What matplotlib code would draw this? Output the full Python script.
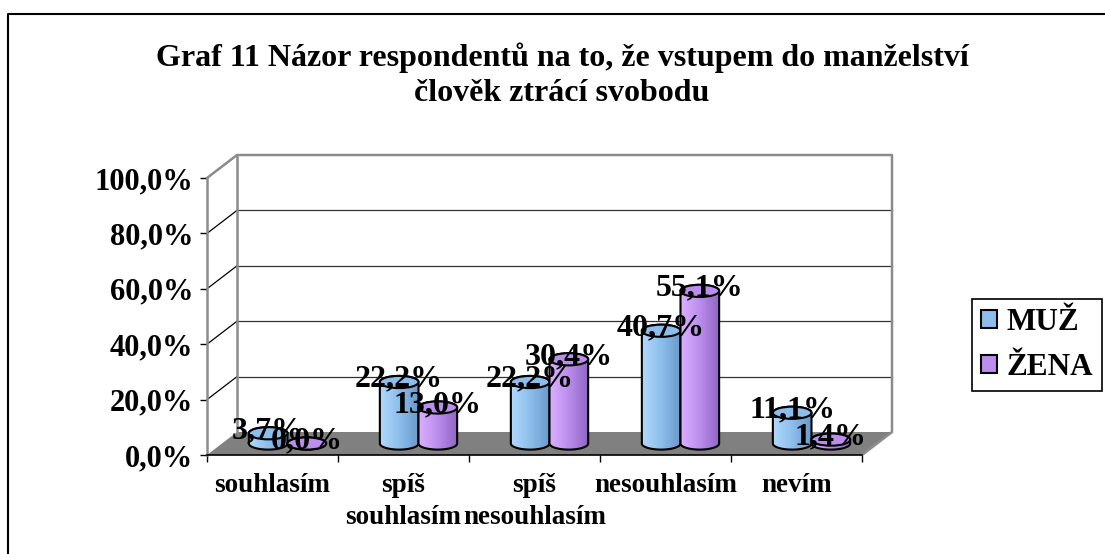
import numpy as np
import matplotlib
matplotlib.use('Agg')
import matplotlib.pyplot as plt
from matplotlib.patches import Polygon, Ellipse, Patch
from matplotlib.lines import Line2D
from matplotlib.colors import LinearSegmentedColormap

plt.rcParams['font.family'] = ['Liberation Serif', 'DejaVu Serif']
plt.rcParams['font.weight'] = 'bold'

# data
categories = ['souhlasím', 'spíš\nsouhlasím', 'spíš\nnesouhlasím', 'nesouhlasím', 'nevím']
series = ['MUŽ', 'ŽENA']
muz = [3.7, 22.2, 22.2, 40.7, 11.1]
zena = [0.0, 13.0, 30.4, 55.1, 1.4]
yticks = [0, 20, 40, 60, 80, 100]
title = 'Graf 11 Názor respondentů na to, že vstupem do manželství\nčlověk ztrácí svobodu'

# colours: light side, mid, dark side
blue = ['#b0d8fb', '#8cbdeb', '#6a9acb']
purple = ['#dcb0ff', '#bb8eee', '#9266c4']

# pseudo 3d geometry (category units / percent units)
DX = 0.229
DY = 8.3
BW = 0.295
EH = 4.4


def pct(v):
    return f'{v:.1f}%'.replace('.', ',')


def cylinder(ax, cx, h, cols, z):
    a = BW / 2
    b = EH / 2
    base = DY / 2
    top = base + h
    t1 = np.linspace(np.pi, 2 * np.pi, 60)
    t2 = np.linspace(0, np.pi, 60)
    xs = np.r_[cx + a * np.cos(t1), cx + a * np.cos(t2)]
    ys = np.r_[base + b * np.sin(t1), top + b * np.sin(t2)]
    body = Polygon(np.c_[xs, ys], closed=True, fc='none', ec='black',
                   lw=1.5, zorder=z + 0.2, clip_on=False)
    ax.add_patch(body)
    cmap = LinearSegmentedColormap.from_list('cyl', cols)
    grad = np.linspace(0, 1, 40)[None, :]
    im = ax.imshow(grad, cmap=cmap, extent=(cx - a, cx + a, base - b, top + b),
                   aspect='auto', origin='lower', zorder=z)
    im.set_clip_path(body)
    ax.add_patch(Ellipse((cx, top), 2 * a, 2 * b, fc=cols[1], ec='black',
                         lw=1.5, zorder=z + 0.3, clip_on=False))
    return top


fig = plt.figure(figsize=(11.05, 5.54), dpi=100)
ax = fig.add_axes([207 / 1105, 99 / 554, 655 / 1105, 277 / 554])
n = len(categories)

# walls and floor
ax.add_patch(Polygon([(0, 0), (n, 0), (n + DX, DY), (DX, DY)], closed=True,
                     fc='#808080', ec='none', zorder=1, clip_on=False))
for v in yticks[1:-1]:
    ax.plot([DX, n + DX], [v + DY, v + DY], color='#333333', lw=0.9, zorder=0.5, clip_on=False)
for v in yticks[1:]:
    ax.plot([0, DX], [v, v + DY], color='black', lw=0.9, zorder=0.5, clip_on=False)
edge = dict(color='#8c8c8c', lw=1.8, zorder=2, clip_on=False, solid_capstyle='round')
ax.plot([0, DX, n + DX, n + DX, n], [100, 100 + DY, 100 + DY, DY, 0], **edge)
ax.plot([DX, DX], [DY, 100 + DY], **edge)

# cylinders
for i in range(n):
    c = i + 0.5 + DX / 2
    for j, (vals, cols) in enumerate([(muz, blue), (zena, purple)]):
        cx = c + (j - 0.5) * BW
        top = cylinder(ax, cx, vals[i], cols, 3 + 2 * i + j)
        ax.text(cx, top + 1, pct(vals[i]), ha='center', va='center',
                fontsize=23, zorder=20)

ax.set_xlim(0, n)
ax.set_ylim(0, 100)
for s in ['top', 'right']:
    ax.spines[s].set_visible(False)
ax.spines['left'].set_color('#8c8c8c')
ax.spines['left'].set_linewidth(1.8)
ax.spines['bottom'].set_color('black')
ax.spines['bottom'].set_linewidth(1.2)
ax.set_yticks(yticks)
ax.set_yticklabels([pct(v) for v in yticks], fontsize=22)
ax.tick_params(axis='y', length=5, width=1, pad=5)
ax.set_xticks(range(n + 1))
ax.set_xticklabels([])
ax.tick_params(axis='x', which='major', length=5, width=1)
ax.set_xticks(np.arange(n) + 0.5, minor=True)
ax.set_xticklabels(categories, minor=True, fontsize=19.5)
ax.tick_params(axis='x', which='minor', length=0, pad=13)
for lbl in ax.get_xticklabels(minor=True):
    lbl.set_linespacing(1.35)

# title
fig.text(562 / 1105, 1 - 75 / 554, title, ha='center', va='center',
         fontsize=23, linespacing=1.28)

# legend
handles = [Patch(fc=blue[1], ec='black', lw=1.5), Patch(fc=purple[1], ec='black', lw=1.5)]
leg = fig.legend(handles, series, loc='center left',
                 bbox_to_anchor=(972 / 1105, 1 - 345 / 554), fontsize=22.5,
                 fancybox=False, edgecolor='black', framealpha=1,
                 handlelength=0.5, handleheight=0.5, handletextpad=0.3,
                 borderpad=0.3, labelspacing=0.5, borderaxespad=0)
leg.get_frame().set_linewidth(1.2)

# outer chart border
fig.add_artist(Line2D([8 / 1105, 8 / 1105, 1.01], [-0.01, 1 - 14 / 554, 1 - 14 / 554],
                      color='black', lw=1.5, transform=fig.transFigure))

fig.savefig('out.png', dpi=100)
